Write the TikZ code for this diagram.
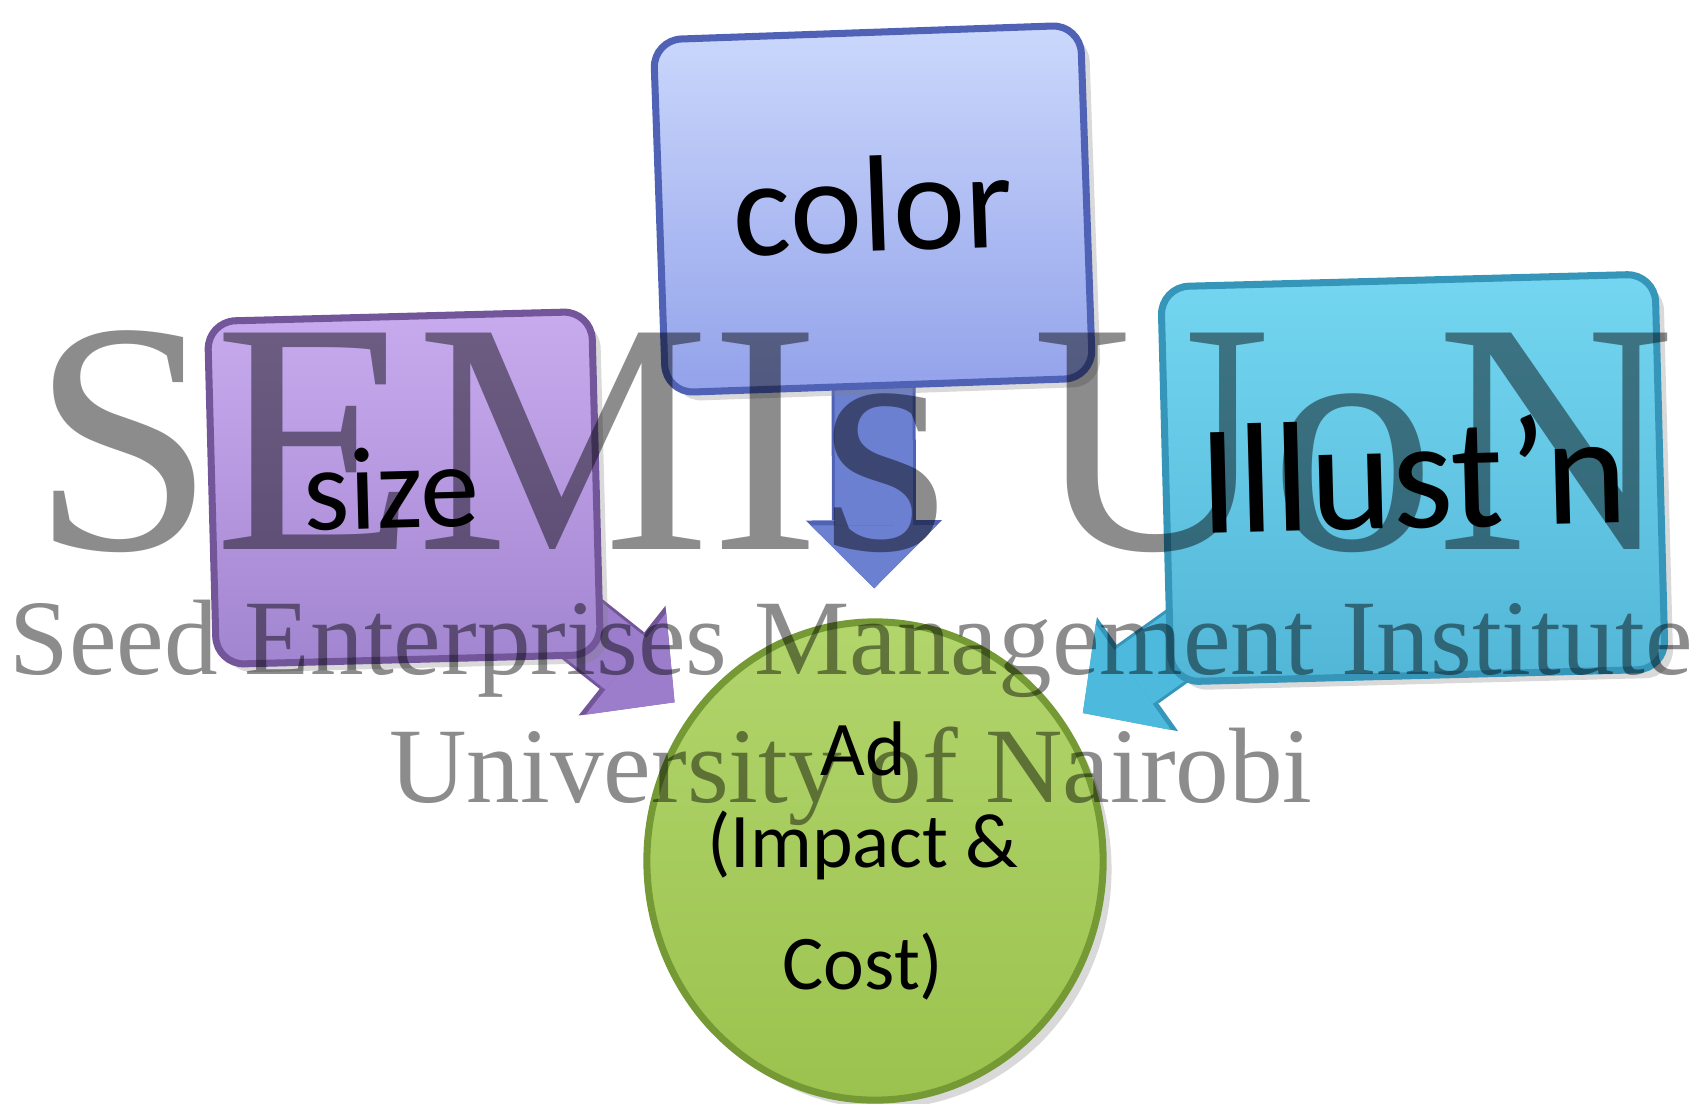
\documentclass[tikz,border=0pt]{standalone}
\usepackage{fontspec}
\setmainfont{Carlito}
\newfontfamily\wmfont{Liberation Serif}
\usepackage{tikz}
\usetikzlibrary{arrows.meta,positioning,calc,shapes.geometric,shadows,backgrounds}

\definecolor{colorhi}{HTML}{CBD8FC}
\definecolor{colorlo}{HTML}{93A2EA}
\definecolor{colorln}{HTML}{5062B5}
\definecolor{sizehi}{HTML}{C8ABEE}
\definecolor{sizelo}{HTML}{A285D0}
\definecolor{sizeln}{HTML}{725699}
\definecolor{illhi}{HTML}{74D6F0}
\definecolor{illlo}{HTML}{52B6D7}
\definecolor{illln}{HTML}{3596BA}
\definecolor{adhi}{HTML}{B2D56C}
\definecolor{adlo}{HTML}{9BC24E}
\definecolor{adln}{HTML}{759A35}
\definecolor{colorarr}{HTML}{6C80D2}
\definecolor{sizearr}{HTML}{9B7DCC}
\definecolor{illarr}{HTML}{4DBADD}

\begin{document}
\begin{tikzpicture}[x=0.01cm, y=-0.01cm,
  box/.style={draw, line width=2pt, rounded corners=0.28cm, align=center, inner sep=0pt,
    drop shadow={opacity=0.3}},
  wm/.style={text=black, text opacity=0.45, anchor=base, inner sep=0pt},
  arr/.style n args={3}{line width=#1, -{Triangle[width=#2, length=#3, line width=0pt]}}
]
\useasboundingbox (0,0) rectangle (1704,1103);

% boxes
\node[box, rotate=2, minimum width=4.27cm, minimum height=3.53cm,
  top color=colorhi, bottom color=colorlo, draw=colorln,
  font=\fontsize{39}{42}\selectfont] (color) at (873,209) {\raisebox{0.1cm}{color}};
\node[box, rotate=1.5, minimum width=3.84cm, minimum height=3.43cm,
  top color=sizehi, bottom color=sizelo, draw=sizeln,
  font=\fontsize{33.5}{38}\selectfont] (size) at (404,488) {\hspace*{-0.25cm}size};
\node[box, rotate=1.5, minimum width=4.94cm, minimum height=3.95cm,
  top color=illhi, bottom color=illlo, draw=illln,
  font=\fontsize{44.5}{50}\selectfont] (illust) at (1413,478) {\raisebox{0.1cm}{Illust’n}};
\node[ellipse, draw=adln, line width=2pt, top color=adhi, bottom color=adlo,
  minimum width=4.56cm, minimum height=4.78cm, inner sep=0pt, align=center,
  drop shadow={opacity=0.3},
  font=\fontsize{22}{26.2}\selectfont] (ad) at (875,861)
  {\hspace*{-0.24cm}Ad\\\hspace*{-0.24cm}(Impact \&\\[8.5pt]\hspace*{-0.24cm}Cost)};

% arrows behind the boxes
\begin{scope}[on background layer]
\draw[arr={0.78cm}{1.26cm}{0.63cm}, colorarr, shorten >=0.3cm,
  preaction={draw=colorln, arr={0.84cm}{1.36cm}{0.68cm}, shorten >=0.3cm}]
  (color.center) -- (ad);
\draw[arr={0.66cm}{1.3cm}{0.62cm}, sizearr, shorten >=0.2cm,
  preaction={draw=sizeln, arr={0.72cm}{1.4cm}{0.67cm}, shorten >=0.2cm}]
  (size.center) -- (ad);
\draw[arr={0.66cm}{1.3cm}{0.62cm}, illarr, shorten >=0.2cm,
  preaction={draw=illln, arr={0.72cm}{1.4cm}{0.67cm}, shorten >=0.2cm}]
  (illust.center) -- (ad);
\end{scope}

% watermark
\node[wm, font=\wmfont\fontsize{94}{94}\selectfont] (semis) at (853,549) {SEMIs UoN};
\node[wm, font=\wmfont\fontsize{30.5}{32}\selectfont] (seed) at (851,674) {Seed Enterprises Management Institute};
\node[wm, font=\wmfont\fontsize{30.5}{32}\selectfont] (uon) at (851,802) {University of Nairobi};
\end{tikzpicture}
\end{document}
